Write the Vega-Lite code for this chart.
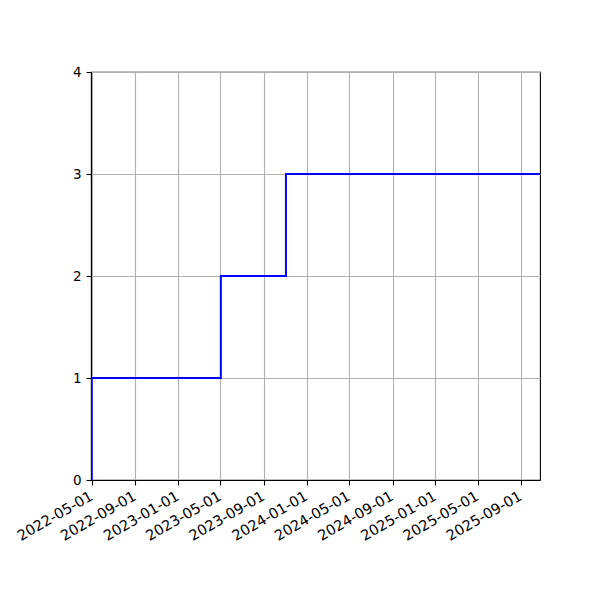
{
  "$schema": "https://vega.github.io/schema/vega-lite/v6.json",
  "width": 449,
  "height": 408,
  "autosize": {"type": "none"},
  "padding": {"left": 91, "top": 72, "right": 60, "bottom": 120},
  "background": "white",
  "config": {
    "font": "DejaVu Sans",
    "view": {"stroke": "black", "strokeWidth": 1.1},
    "axis": {
      "domainColor": "black",
      "domainWidth": 1.1,
      "tickColor": "black",
      "tickSize": 5,
      "tickWidth": 1.1,
      "labelColor": "black",
      "labelFontSize": 13.5,
      "labelFont": "DejaVu Sans",
      "gridColor": "#b0b0b0",
      "gridWidth": 1.1,
      "title": null
    }
  },
  "data": {
    "values": [
      {"date": "2022-04-30", "count": 0},
      {"date": "2022-04-30", "count": 1},
      {"date": "2023-05-02", "count": 2},
      {"date": "2023-11-03", "count": 3},
      {"date": "2025-10-25", "count": 3}
    ]
  },
  "mark": {"type": "line", "interpolate": "step-after", "color": "blue", "strokeWidth": 2, "clip": true},
  "encoding": {
    "x": {
      "field": "date",
      "type": "temporal",
      "scale": {
        "type": "utc",
        "domain": [
          {"year": 2022, "month": 4, "date": 28, "utc": true},
          {"year": 2025, "month": 10, "date": 25, "utc": true}
        ]
      },
      "axis": {
        "grid": true,
        "values": [
          {"year": 2022, "month": 5, "date": 1, "utc": true},
          {"year": 2022, "month": 9, "date": 1, "utc": true},
          {"year": 2023, "month": 1, "date": 1, "utc": true},
          {"year": 2023, "month": 5, "date": 1, "utc": true},
          {"year": 2023, "month": 9, "date": 1, "utc": true},
          {"year": 2024, "month": 1, "date": 1, "utc": true},
          {"year": 2024, "month": 5, "date": 1, "utc": true},
          {"year": 2024, "month": 9, "date": 1, "utc": true},
          {"year": 2025, "month": 1, "date": 1, "utc": true},
          {"year": 2025, "month": 5, "date": 1, "utc": true},
          {"year": 2025, "month": 9, "date": 1, "utc": true}
        ],
        "labelExpr": "utcFormat(datum.value, '%Y-%m-%d')",
        "labelAngle": -30,
        "labelAlign": "right",
        "labelBaseline": "top",
        "labelFontSize": 14.5,
        "labelOffset": -4,
        "labelPadding": 4,
        "labelOverlap": false,
        "labelFlush": false
      }
    },
    "y": {
      "field": "count",
      "type": "quantitative",
      "scale": {"domain": [0, 4], "nice": false, "zero": true},
      "axis": {"grid": true, "values": [0, 1, 2, 3, 4], "format": "d", "labelPadding": 5}
    }
  }
}
